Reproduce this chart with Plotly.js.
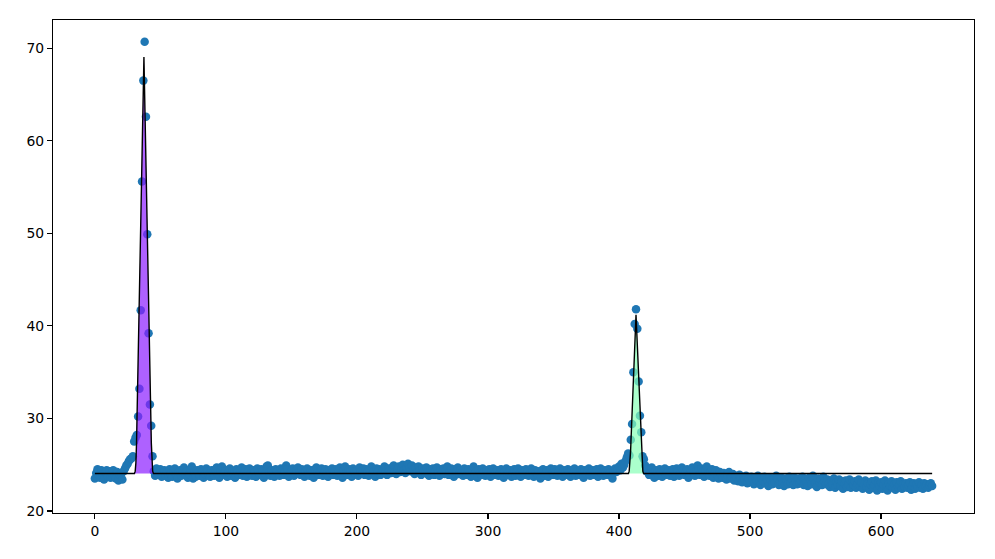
<!DOCTYPE html>
<html>
<head>
<meta charset="utf-8">
<script src="https://cdn.plot.ly/plotly-3.0.1.min.js"></script>
<style>html,body{margin:0;padding:0;background:#fff;}#chart{width:995px;height:559px;}</style>
</head>
<body>
<div id="chart"></div>
<script>
// measured signal, one value per index 0..639
var signalY = [
23.5,24.1,24.5,24.3,23.6,24.4,23.9,23.4,24.2,24.4,23.7,24.3,23.6,24.1,24.4,23.8,23.5,24.2,23.3,23.9,
24.0,23.4,24.3,24.6,24.9,25.1,25.4,25.6,25.7,25.9,27.5,27.9,28.2,30.2,33.2,41.7,55.6,66.5,70.7,62.6,
49.9,39.2,31.5,29.2,25.9,24.3,23.8,24.6,24.2,23.9,24.5,23.7,24.1,24.4,23.8,24.2,23.6,24.5,24.0,23.7,
24.3,24.6,23.9,23.5,24.2,24.4,23.8,24.1,24.7,23.9,24.3,23.6,24.0,24.5,24.8,23.5,24.2,23.7,24.4,24.1,
23.8,24.5,24.2,23.6,24.0,24.6,24.3,23.9,23.7,24.4,24.1,23.8,24.5,24.7,24.0,23.6,24.3,24.8,23.9,24.2,
24.4,23.7,24.1,24.6,23.8,24.3,24.0,23.6,24.5,24.2,23.9,24.4,24.7,23.8,24.1,24.5,23.7,24.3,24.6,24.0,
23.8,24.4,24.2,23.7,24.6,24.1,23.9,24.5,24.3,23.6,24.0,24.8,24.9,24.2,23.8,24.4,24.1,23.7,24.5,24.3,
24.0,23.8,24.6,24.4,23.9,24.2,24.9,24.5,23.7,24.1,24.3,24.6,23.8,24.0,24.4,24.7,24.2,23.9,24.5,24.1,
23.7,24.3,24.6,24.0,23.8,24.4,24.2,23.6,24.5,24.7,24.1,23.9,24.3,24.6,23.8,24.2,24.5,24.0,23.7,24.4,
24.1,24.6,23.9,24.3,24.5,23.8,24.2,24.7,24.0,23.6,24.4,24.8,24.1,23.9,24.5,24.3,23.7,24.6,24.2,24.0,
24.4,23.8,24.7,24.3,24.1,24.6,23.9,24.5,24.2,23.8,24.4,24.8,24.0,24.3,23.7,24.6,24.2,24.5,23.9,24.1,
24.5,24.8,24.2,23.9,24.6,24.4,24.1,24.7,24.9,24.3,24.0,24.6,24.8,24.2,24.5,25.0,24.4,24.1,24.7,25.1,
24.6,24.3,24.9,24.5,24.0,24.7,24.2,24.8,24.4,23.9,24.6,24.3,24.1,24.7,24.0,23.8,24.5,24.2,24.6,23.9,
24.3,24.7,24.1,23.8,24.5,24.2,24.6,24.0,24.4,24.8,23.9,24.3,24.6,24.1,23.7,24.5,24.2,24.7,24.0,24.4,
24.1,23.8,24.6,24.3,23.9,24.5,24.2,23.7,24.4,24.8,24.0,24.3,23.6,24.5,24.1,23.9,24.6,24.2,23.8,24.4,
24.0,24.5,23.7,24.3,24.6,23.9,24.2,24.4,23.8,24.1,24.5,24.0,23.6,24.3,24.6,23.9,24.2,24.4,23.7,24.1,
24.5,23.8,24.2,24.6,24.0,23.7,24.4,24.1,23.9,24.5,24.3,23.8,24.0,24.6,24.2,23.7,24.4,24.1,23.9,24.3,
23.5,24.2,24.5,23.8,24.0,24.4,23.7,24.3,24.6,24.1,23.9,24.5,24.2,23.8,24.3,24.6,24.0,23.7,24.4,24.1,
23.9,24.5,24.2,23.7,24.4,24.0,24.6,23.8,24.3,24.1,23.9,24.5,24.2,23.6,24.4,24.0,24.3,24.6,23.8,24.2,
24.4,23.9,24.1,24.5,23.7,24.3,24.6,24.0,23.8,24.4,24.2,23.9,24.5,24.1,23.8,23.5,24.3,24.6,24.2,24.5,
24.8,24.4,25.1,24.7,25.0,25.4,25.8,26.2,26.0,27.7,29.4,35.0,40.2,41.8,39.7,34.0,30.3,28.5,25.9,25.6,
24.9,24.3,24.6,23.9,24.2,24.7,24.0,23.6,24.4,24.1,23.8,24.5,24.2,23.7,24.3,24.6,23.9,24.1,24.4,23.8,
24.2,24.5,23.7,24.0,24.6,24.3,23.8,24.1,24.7,24.4,23.9,24.2,24.5,23.6,24.0,24.4,24.7,24.1,23.8,24.3,
24.9,24.5,23.9,24.6,24.2,23.7,24.4,24.8,24.0,23.8,24.3,24.5,23.6,24.1,24.4,23.9,23.5,24.2,24.0,23.6,
24.1,23.8,23.4,23.9,24.2,23.5,23.7,24.0,23.3,23.8,23.6,23.2,23.9,23.5,23.1,23.7,23.4,23.8,23.0,23.5,
23.2,23.7,23.4,22.9,23.6,23.3,23.8,23.1,22.8,23.5,23.2,23.7,23.0,23.4,22.7,23.6,23.3,22.9,23.5,23.1,
23.8,23.4,22.8,23.2,23.6,23.0,22.7,23.5,23.3,22.9,23.7,23.1,23.4,22.8,23.6,23.2,22.9,23.5,23.0,23.3,
23.7,22.8,23.4,23.1,22.7,23.6,23.2,22.9,23.8,23.3,23.0,22.6,23.5,23.1,23.4,22.8,23.7,23.2,22.9,23.4,
23.0,22.6,23.3,22.9,23.5,22.5,23.1,22.8,23.4,22.7,23.2,22.4,23.0,23.3,22.6,22.9,23.4,22.5,23.1,22.8,
23.2,22.5,22.9,23.4,22.7,23.1,22.4,22.8,23.3,22.6,23.0,22.3,22.9,23.2,22.5,22.8,23.3,22.2,23.0,22.7,
23.1,22.4,22.8,23.3,22.6,22.2,23.0,22.7,23.2,22.5,22.9,22.3,23.1,22.6,22.8,23.2,22.4,22.9,22.6,23.0,
22.5,22.8,23.1,22.3,22.7,23.0,22.4,22.9,22.6,23.1,22.5,22.8,22.4,23.0,22.7,22.9,22.5,22.8,23.0,22.7
];
var signalX = signalY.map(function (v, i) { return i; });

// fitted model curve, vertices
var fitX = [0, 30.2, 30.8, 31.3, 31.8, 37.45, 43.1, 43.6, 44.1, 44.7,
            407.2, 407.8, 408.3, 408.8, 413.0, 417.2, 417.7, 418.2, 418.8, 639];
var fitY = [24.05, 24.05, 24.3, 25.2, 27.3, 69.05, 27.3, 25.2, 24.3, 24.05,
            24.05, 24.3, 25.0, 26.3, 41.2, 26.3, 25.0, 24.3, 24.05, 24.05];
// which fit vertices belong to each peak (first..last index)
var peakRanges = [[1, 9], [10, 18]];
var peakColors = ['rgba(140,30,255,0.7)', 'rgba(135,255,182,0.7)'];

var xTicks = [0, 100, 200, 300, 400, 500, 600];
var yTicks = [20, 30, 40, 50, 60, 70];

var traces = [];
traces.push({
  x: signalX, y: signalY, type: 'scatter', mode: 'markers',
  marker: { color: '#1f77b4', size: 8.5, line: { width: 0 } },
  hoverinfo: 'x+y', showlegend: false
});
peakRanges.forEach(function (r, k) {
  traces.push({
    x: fitX.slice(r[0], r[1] + 1), y: fitY.slice(r[0], r[1] + 1),
    type: 'scatter', mode: 'none', fill: 'toself', fillcolor: peakColors[k],
    hoverinfo: 'skip', showlegend: false
  });
});
traces.push({
  x: fitX, y: fitY, type: 'scatter', mode: 'lines',
  line: { color: '#000000', width: 1.4 }, hoverinfo: 'skip', showlegend: false
});

var axisCommon = {
  showgrid: false, zeroline: false, showline: true, mirror: true,
  linecolor: '#000000', linewidth: 1.1, ticks: 'outside', ticklen: 5,
  tickwidth: 1.1, tickcolor: '#000000',
  tickfont: { family: 'DejaVu Sans, sans-serif', size: 13.9, color: '#000000' }
};

var layout = {
  width: 995, height: 559,
  margin: { l: 53, r: 21, t: 20, b: 46, pad: 0 },
  paper_bgcolor: '#ffffff', plot_bgcolor: '#ffffff',
  showlegend: false,
  xaxis: Object.assign({}, axisCommon, {
    range: [-31.95, 670.95], tickmode: 'array', tickvals: xTicks,
    ticktext: xTicks.map(String)
  }),
  yaxis: Object.assign({}, axisCommon, {
    range: [19.78, 73.05], tickmode: 'array', tickvals: yTicks,
    ticktext: yTicks.map(String)
  })
};

Plotly.newPlot('chart', traces, layout, { displayModeBar: false, staticPlot: true });
</script>
</body>
</html>
